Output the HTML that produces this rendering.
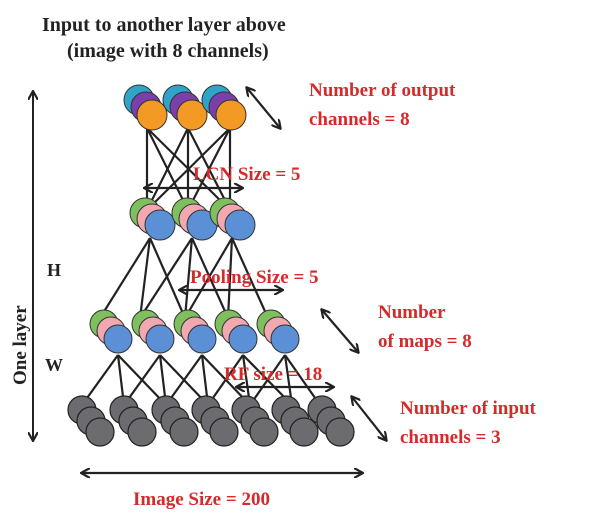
<!DOCTYPE html>
<html><head><meta charset="utf-8"><style>
html,body{margin:0;padding:0;background:#fff;}
svg{display:block;}
text{font-family:"Liberation Serif",serif;font-weight:bold;}
.r{fill:#d42a2a;font-size:19px;}
.k{fill:#222;}
</style></head><body>
<svg width="600" height="521" viewBox="0 0 600 521" xmlns="http://www.w3.org/2000/svg">
<defs>
<marker id="a" markerWidth="10" markerHeight="10" refX="8" refY="5" orient="auto-start-reverse" markerUnits="userSpaceOnUse">
<path d="M0,0 L9,5 L0,10" fill="none" stroke="#222" stroke-width="2.2"/>
</marker>
</defs>
<rect width="600" height="521" fill="#fff"/>
<text x="42" y="31" class="k" font-size="20">Input to another layer above</text>
<text x="67" y="57" class="k" font-size="20">(image with 8 channels)</text>

<!-- vertical one layer arrow -->
<line x1="33" y1="92" x2="33" y2="440" stroke="#222" stroke-width="2" marker-start="url(#a)" marker-end="url(#a)"/>
<text transform="translate(26,385) rotate(-90)" class="k" font-size="19">One layer</text>
<text x="47" y="276" class="k" font-size="18">H</text>
<text x="45" y="371" class="k" font-size="18">W</text>

<g stroke="#222" stroke-width="2.2" fill="none">
<!-- top to middle -->
<line x1="147" y1="128" x2="147" y2="210"/><line x1="188" y1="128" x2="188" y2="210"/><line x1="230" y1="128" x2="230" y2="210"/>
<line x1="147" y1="128" x2="230" y2="210"/><line x1="147" y1="128" x2="188" y2="210"/>
<line x1="188" y1="128" x2="147" y2="210"/><line x1="188" y1="128" x2="230" y2="210"/>
<line x1="230" y1="128" x2="147" y2="210"/><line x1="230" y1="128" x2="188" y2="210"/>
<!-- middle to maps -->
<line x1="150" y1="238" x2="100" y2="318"/><line x1="150" y1="238" x2="140" y2="318"/><line x1="150" y1="238" x2="185" y2="318"/>
<line x1="192" y1="238" x2="140" y2="318"/><line x1="192" y1="238" x2="185" y2="318"/><line x1="192" y1="238" x2="228" y2="318"/>
<line x1="232" y1="238" x2="185" y2="318"/><line x1="232" y1="238" x2="228" y2="318"/><line x1="232" y1="238" x2="268" y2="318"/>
<!-- input to maps -->
<g>
<line x1="82" y1="405" x2="118" y2="355"/><line x1="124" y1="405" x2="118" y2="355"/><line x1="166" y1="405" x2="118" y2="355"/>
<line x1="124" y1="405" x2="160" y2="355"/><line x1="166" y1="405" x2="160" y2="355"/><line x1="208" y1="405" x2="160" y2="355"/>
<line x1="166" y1="405" x2="202" y2="355"/><line x1="208" y1="405" x2="202" y2="355"/><line x1="250" y1="405" x2="202" y2="355"/>
<line x1="208" y1="405" x2="243" y2="355"/><line x1="250" y1="405" x2="243" y2="355"/><line x1="292" y1="405" x2="243" y2="355"/>
<line x1="250" y1="405" x2="285" y2="355"/><line x1="292" y1="405" x2="285" y2="355"/><line x1="320" y1="405" x2="285" y2="355"/>
</g>
</g>

<!-- top layer -->
<g stroke="#333" stroke-width="1">
<g><circle cx="139" cy="100" r="15" fill="#2fa3c8"/><circle cx="146" cy="107" r="15" fill="#7a3fa8"/><circle cx="152" cy="115" r="15" fill="#f39a25"/></g>
<g><circle cx="178" cy="100" r="15" fill="#2fa3c8"/><circle cx="185" cy="107" r="15" fill="#7a3fa8"/><circle cx="192" cy="115" r="15" fill="#f39a25"/></g>
<g><circle cx="217" cy="100" r="15" fill="#2fa3c8"/><circle cx="224" cy="107" r="15" fill="#7a3fa8"/><circle cx="231" cy="115" r="15" fill="#f39a25"/></g>
<!-- middle -->
<g><circle cx="145" cy="213" r="15" fill="#7fbf5e"/><circle cx="152" cy="219" r="15" fill="#f2a8b0"/><circle cx="160" cy="225" r="15" fill="#5b8fd6"/></g>
<g><circle cx="187" cy="213" r="15" fill="#7fbf5e"/><circle cx="194" cy="219" r="15" fill="#f2a8b0"/><circle cx="202" cy="225" r="15" fill="#5b8fd6"/></g>
<g><circle cx="225" cy="213" r="15" fill="#7fbf5e"/><circle cx="232" cy="219" r="15" fill="#f2a8b0"/><circle cx="240" cy="225" r="15" fill="#5b8fd6"/></g>
<!-- maps -->
<g><circle cx="104" cy="324" r="14" fill="#7fbf5e"/><circle cx="111" cy="331" r="14" fill="#f2a8b0"/><circle cx="118" cy="339" r="14" fill="#5b8fd6"/></g>
<g><circle cx="146" cy="324" r="14" fill="#7fbf5e"/><circle cx="153" cy="331" r="14" fill="#f2a8b0"/><circle cx="160" cy="339" r="14" fill="#5b8fd6"/></g>
<g><circle cx="188" cy="324" r="14" fill="#7fbf5e"/><circle cx="195" cy="331" r="14" fill="#f2a8b0"/><circle cx="202" cy="339" r="14" fill="#5b8fd6"/></g>
<g><circle cx="229" cy="324" r="14" fill="#7fbf5e"/><circle cx="236" cy="331" r="14" fill="#f2a8b0"/><circle cx="243" cy="339" r="14" fill="#5b8fd6"/></g>
<g><circle cx="271" cy="324" r="14" fill="#7fbf5e"/><circle cx="278" cy="331" r="14" fill="#f2a8b0"/><circle cx="285" cy="339" r="14" fill="#5b8fd6"/></g>
</g>
<!-- input gray -->
<g stroke="#222" stroke-width="1.2" fill="#6b6b70">
<g><circle cx="82" cy="410" r="14"/><circle cx="91" cy="421" r="14"/><circle cx="100" cy="432" r="14"/></g>
<g><circle cx="124" cy="410" r="14"/><circle cx="133" cy="421" r="14"/><circle cx="142" cy="432" r="14"/></g>
<g><circle cx="166" cy="410" r="14"/><circle cx="175" cy="421" r="14"/><circle cx="184" cy="432" r="14"/></g>
<g><circle cx="206" cy="410" r="14"/><circle cx="215" cy="421" r="14"/><circle cx="224" cy="432" r="14"/></g>
<g><circle cx="246" cy="410" r="14"/><circle cx="255" cy="421" r="14"/><circle cx="264" cy="432" r="14"/></g>
<g><circle cx="286" cy="410" r="14"/><circle cx="295" cy="421" r="14"/><circle cx="304" cy="432" r="14"/></g>
<g><circle cx="322" cy="410" r="14"/><circle cx="331" cy="421" r="14"/><circle cx="340" cy="432" r="14"/></g>
</g>

<!-- arrows -->
<g stroke="#222" stroke-width="2.2">
<line x1="247" y1="88" x2="280" y2="128" marker-start="url(#a)" marker-end="url(#a)"/>
<line x1="145" y1="188" x2="242" y2="188" marker-start="url(#a)" marker-end="url(#a)"/>
<line x1="180" y1="290" x2="282" y2="290" marker-start="url(#a)" marker-end="url(#a)"/>
<line x1="322" y1="310" x2="358" y2="352" marker-start="url(#a)" marker-end="url(#a)"/>
<line x1="237" y1="387" x2="333" y2="387" marker-start="url(#a)" marker-end="url(#a)"/>
<line x1="352" y1="397" x2="386" y2="440" marker-start="url(#a)" marker-end="url(#a)"/>
<line x1="82" y1="473" x2="362" y2="473" marker-start="url(#a)" marker-end="url(#a)"/>
</g>

<text x="309" y="96" class="r">Number  of output</text>
<text x="309" y="125" class="r">channels = 8</text>
<text x="193" y="180" class="r">LCN Size = 5</text>
<text x="190" y="283" class="r">Pooling Size = 5</text>
<text x="378" y="318" class="r">Number</text>
<text x="378" y="347" class="r">of maps = 8</text>
<text x="224" y="380" class="r">RF size = 18</text>
<text x="400" y="414" class="r">Number  of input</text>
<text x="400" y="443" class="r">channels = 3</text>
<text x="133" y="505" class="r">Image Size = 200</text>
</svg>
</body></html>
